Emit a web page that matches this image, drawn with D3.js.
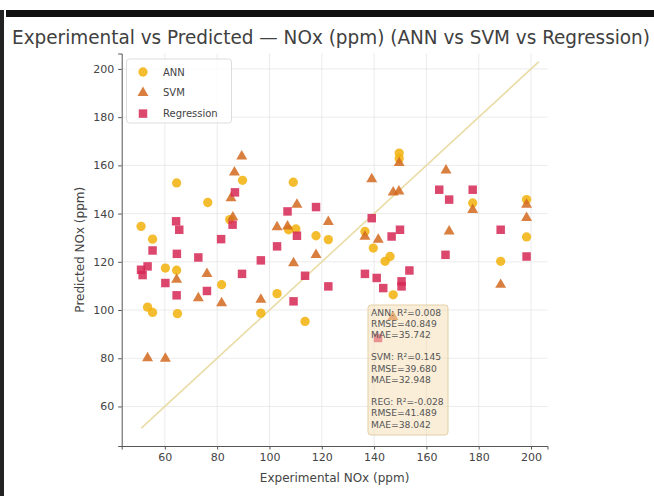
<!DOCTYPE html>
<html>
<head>
<meta charset="utf-8">
<script src="https://cdn.jsdelivr.net/npm/d3@7"></script>
<style>
  body { margin: 0; background: #fff; }
  svg { display: block; font-family: "DejaVu Sans", sans-serif; }
</style>
</head>
<body>
<div class="app"></div>
<script>
// chart values
var annPts = [[50.9,134.7],[55.3,129.4],[53.4,101.2],[55.3,99.0],[60.2,117.4],[64.5,152.7],[64.5,116.5],[64.8,98.5],
  [76.4,144.6],[81.7,110.5],[84.8,137.5],[89.7,153.8],[96.7,98.7],[102.9,106.8],[107.3,133.3],[109.1,153],[110.1,133.6],
  [113.6,95.3],[117.8,130.8],[122.5,129.2],[136.5,132.6],[139.7,125.7],[144.2,120.2],[146.1,122.2],[147.3,106.3],
  [149.6,165.1],[149.6,162.8],[177.7,144.4],[188.4,120.2],[198.3,145.8],[198.3,130.3]];
var svmPts = [[53.4,80.1],[60.2,79.9],[64.5,112.6],[72.8,105],[76.1,115],[81.7,102.9],[85.3,146.4],[86.6,157.1],
  [89.4,163.7],[86,138.5],[96.7,104.3],[102.9,134.4],[106.9,134.7],[109.2,119.5],[110.5,143.7],[117.8,122.9],
  [122.5,136.6],[139.1,154.3],[141.6,129.2],[136.5,130.5],[147.3,148.8],[149.5,149.2],[149.6,161],[147.2,97.2],
  [167.5,157.9],[168.7,132.6],[177.7,141.6],[188.4,110.5],[198.3,138.2],[198.3,143.7]];
var regPts = [[50.9,116.7],[53.4,118.1],[51.5,114.5],[55.3,124.7],[60.2,111.2],[64.3,136.8],[65.5,133.3],[64.6,123.3],
  [64.5,106.1],[72.8,121.8],[76.1,107.9],[81.5,129.4],[85.9,135.4],[86.8,148.8],[89.5,115],[96.7,120.6],[102.9,126.4],
  [106.9,140.9],[110.5,130.8],[109.2,103.6],[113.6,114.2],[117.8,142.7],[122.5,109.8],[136.5,115],[139.1,138.1],
  [141,113.3],[143.5,109.1],[146.7,130.5],[149.9,133.3],[150.5,111.9],[150.5,109.8],[153.5,116.4],[141.5,88.4],
  [164.9,149.9],[168.7,145.8],[167.3,122.9],[177.7,149.9],[188.4,133.3],[198.3,122.2]];
var xTicks = [60,80,100,120,140,160,180,200];
var yTicks = [60,80,100,120,140,160,180,200];
var idealLine = [51,203];
var seriesNames = ["ANN","SVM","Regression"];
var metricLines = ["ANN: R\u00b2=0.008","RMSE=40.849","MAE=35.742","","SVM: R\u00b2=0.145","RMSE=39.680","MAE=32.948","","REG: R\u00b2=-0.028","RMSE=41.489","MAE=38.042"];

var W = 654, H = 496;
var svg = d3.select(".app").append("svg").attr("width", W).attr("height", H);
svg.append("rect").attr("width", W).attr("height", H).attr("fill", "#fff");
// frame of the screenshot
svg.append("rect").attr("x", 6).attr("y", 10).attr("width", W - 6).attr("height", 7).attr("fill", "#111");
svg.append("rect").attr("x", 0).attr("y", 10).attr("width", 4).attr("height", H - 10).attr("fill", "#222");

var pLeft = 121.7, pRight = 547.5, pTop = 53.5, pBottom = 446;
var x = d3.scaleLinear().domain([43.5, 206.3]).range([pLeft, pRight]);
var y = d3.scaleLinear().domain([43.6, 206.4]).range([pBottom, pTop]);

svg.append("text").attr("x", 12).attr("y", 44).attr("font-size", 19.5).attr("fill", "#404040")
  .attr("font-family", "DejaVu Sans Condensed, DejaVu Sans, sans-serif")
  .attr("textLength", 638).attr("lengthAdjust", "spacingAndGlyphs")
  .text("Experimental vs Predicted \u2014 NOx (ppm) (ANN vs SVM vs Regression)");

// grid
var g = svg.append("g");
g.selectAll(".gx").data(xTicks).enter().append("line")
  .attr("x1", function(d){ return x(d); }).attr("x2", function(d){ return x(d); })
  .attr("y1", pTop).attr("y2", pBottom).attr("stroke", "#e6e6e6").attr("stroke-width", 0.8);
g.selectAll(".gy").data(yTicks).enter().append("line")
  .attr("y1", function(d){ return y(d); }).attr("y2", function(d){ return y(d); })
  .attr("x1", pLeft).attr("x2", pRight).attr("stroke", "#e6e6e6").attr("stroke-width", 0.8);

// axes
var xAxis = svg.append("g").attr("transform", "translate(0," + pBottom + ")")
  .call(d3.axisBottom(x).tickValues(xTicks).tickSize(3.5).tickPadding(4).tickFormat(d3.format("d")));
var yAxis = svg.append("g").attr("transform", "translate(" + pLeft + ",0)")
  .call(d3.axisLeft(y).tickValues(yTicks).tickSize(3.5).tickPadding(4).tickFormat(d3.format("d")));
[xAxis, yAxis].forEach(function(a){
  a.select(".domain").attr("stroke", "#555");
  a.selectAll(".tick line").attr("stroke", "#555");
  a.selectAll("text").attr("font-size", 11).attr("fill", "#444").attr("font-family", "DejaVu Sans, sans-serif");
});

svg.append("text").attr("x", (pLeft + pRight) / 2).attr("y", 482).attr("text-anchor", "middle")
  .attr("font-size", 12).attr("fill", "#444").text("Experimental NOx (ppm)");
svg.append("text").attr("transform", "translate(84," + ((pTop + pBottom) / 2) + ") rotate(-90)")
  .attr("text-anchor", "middle").attr("font-size", 12).attr("fill", "#444").text("Predicted NOx (ppm)");

// ideal y = x line
svg.append("line").attr("x1", x(idealLine[0])).attr("y1", y(idealLine[0]))
  .attr("x2", x(idealLine[1])).attr("y2", y(idealLine[1]))
  .attr("stroke", "#e9dca6").attr("stroke-width", 1.6);

var colors = { ANN: "#f2b20c", SVM: "#d2691e", Regression: "#d62755" };
var symbols = { ANN: d3.symbolCircle, SVM: d3.symbolTriangle, Regression: d3.symbolSquare };
var sizes = { ANN: 68, SVM: 52, Regression: 72 };
var data = { ANN: annPts, SVM: svmPts, Regression: regPts };

seriesNames.forEach(function(name){
  svg.append("g").selectAll("path").data(data[name]).enter().append("path")
    .attr("transform", function(d){ return "translate(" + x(d[0]) + "," + y(d[1]) + ")"; })
    .attr("d", d3.symbol().type(symbols[name]).size(sizes[name]))
    .attr("fill", colors[name]).attr("fill-opacity", 0.85);
});

// legend
var lg = svg.append("g");
lg.append("rect").attr("x", 126.5).attr("y", 59).attr("width", 105).attr("height", 64).attr("rx", 3)
  .attr("fill", "#fff").attr("fill-opacity", 0.8).attr("stroke", "#ddd");
seriesNames.forEach(function(name, i){
  var cy = 72 + i * 20.8;
  lg.append("path").attr("transform", "translate(143," + cy + ")")
    .attr("d", d3.symbol().type(symbols[name]).size(sizes[name])).attr("fill", colors[name]).attr("fill-opacity", 0.85);
  lg.append("text").attr("x", 163).attr("y", cy + 3.5).attr("font-size", 10).attr("fill", "#444").text(name);
});

// metrics box
var mb = svg.append("g");
mb.append("rect").attr("x", 368).attr("y", 305).attr("width", 80).attr("height", 130).attr("rx", 3)
  .attr("fill", "#f5deb3").attr("fill-opacity", 0.5).attr("stroke", "#e2cfa6");
metricLines.forEach(function(t, i){
  mb.append("text").attr("x", 371).attr("y", 315.5 + i * 11.2).attr("font-size", 9.2).attr("fill", "#555").text(t);
});
</script>
</body>
</html>
